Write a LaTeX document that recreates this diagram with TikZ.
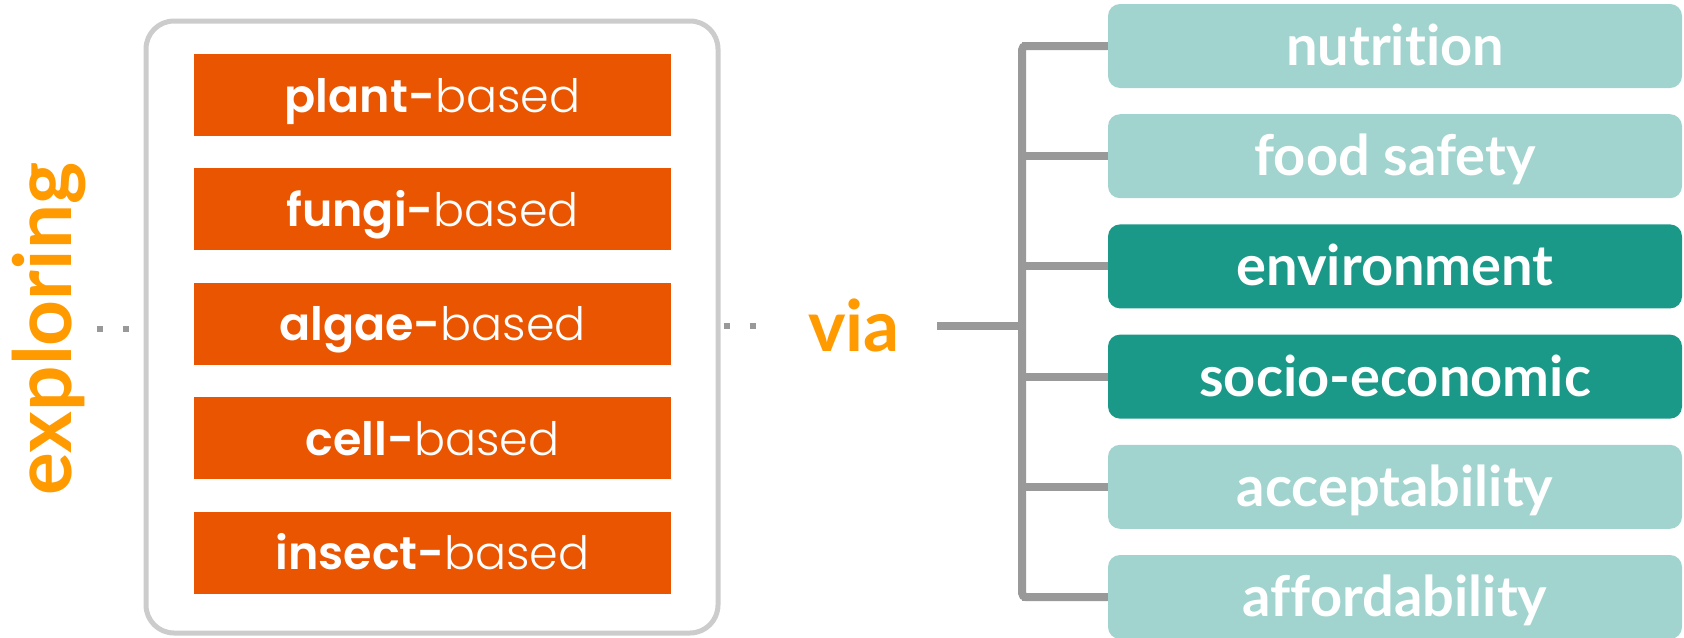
\documentclass[tikz,border=0pt]{standalone}
\usepackage{fontspec}
\setmainfont{Lato}[Ligatures=NoCommon]
\newfontfamily\kindfont{Poppins}[UprightFont=* Light, BoldFont=* SemiBold]
\usetikzlibrary{positioning}
\definecolor{rust}{HTML}{E95500}
\definecolor{amber}{HTML}{FF9A00}
\definecolor{mint}{HTML}{A1D4CE}
\definecolor{deepteal}{HTML}{1B9988}
\definecolor{framegray}{HTML}{CCCCCC}
\definecolor{wire}{HTML}{999999}
\tikzset{
  kind/.style={fill=rust,text=white,minimum width=238.5pt,minimum height=41pt,inner sep=0pt,text height=17pt,text depth=0pt,font=\kindfont\fontsize{23pt}{28pt}\selectfont},
  aim/.style={fill=mint,rounded corners=6pt,text=white,minimum width=287pt,minimum height=42pt,inner sep=0pt,text height=19.5pt,text depth=0pt,font=\bfseries\fontsize{28pt}{34pt}\selectfont},
  aimhi/.style={aim,fill=deepteal},
  wordtag/.style={text=amber,inner sep=0pt,font=\bfseries\fontsize{#1}{#1}\selectfont},
  dots/.style={draw=wire,line width=3pt,dash pattern=on 3pt off 10pt},
  tree/.style={draw=wire,line width=4pt},
}

\begin{document}
\begin{tikzpicture}[x=0.5pt,y=0.5pt]
\useasboundingbox (0,0) rectangle (1684,-637);
% left: alternative protein sources in a frame
\node[draw=framegray,line width=2.5pt,rounded corners=14pt,minimum width=286pt,minimum height=306pt] (sources) at (432,-327) {};
\foreach \name [count=\i from 0] in {plant,fungi,algae,cell,insect}
  \node[kind] (\name) at (432.5,{-95-114.4*\i}) {\textbf{\name-}based};
\node[wordtag=40pt,rotate=90,anchor=base] (expl) at (71,-329) {exploring};
\draw[dots,shorten <=5.5pt] (expl.south) -- (expl.south -| sources.west);

% right: criteria tree
\node[wordtag=35.5pt,anchor=base] (via) at (854,-351) {via};
\coordinate (hub) at (1022,-326);
\draw[dots,shorten <=1.5pt,shorten >=20pt] (sources.east |- hub) -- (via.west |- hub);
\draw[tree,shorten <=18.5pt] (via.east |- hub) -- (hub);
\foreach \i/\name/\txt/\st in {
  0/nut/nutrition/aim,
  1/safe/food safety/aim,
  2/env/environment/aimhi,
  3/socio/socio-economic/aimhi,
  4/accept/acceptability/aim,
  5/afford/affordability/aim} {
  \node[\st] (\name) at (1395,{-46-110.2*\i}) {\txt};
  \draw[tree] (\name.west) -- (\name.west -| hub);
}
\draw[tree,rounded corners=2pt] (nut.west) -- (nut.west -| hub) -- (afford.west -| hub) -- (afford.west);
\end{tikzpicture}
\end{document}
